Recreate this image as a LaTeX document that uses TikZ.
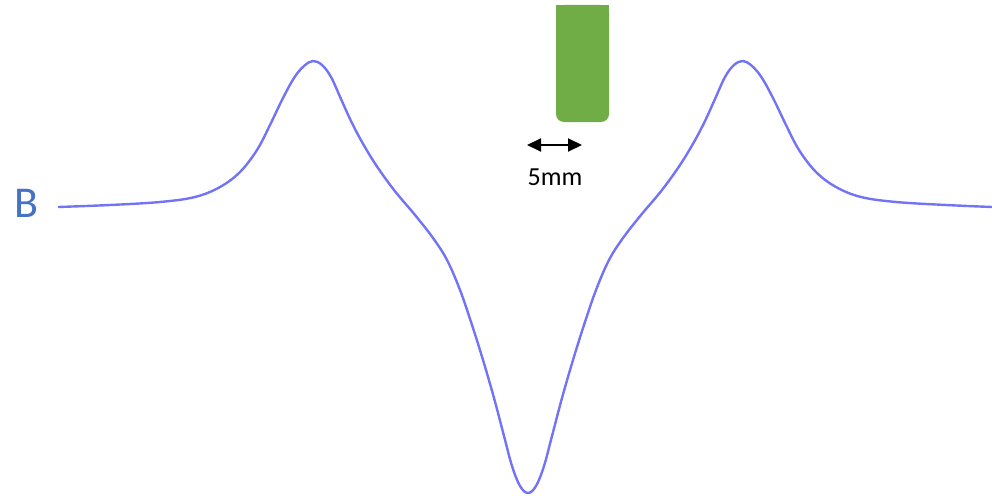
\documentclass[tikz,border=0pt]{standalone}
\usepackage{fontspec}
\setmainfont{Carlito}
\usetikzlibrary{arrows.meta}
\definecolor{fieldblue}{RGB}{90,90,245}
\definecolor{labelblue}{RGB}{68,114,196}
\definecolor{probegreen}{RGB}{112,173,71}
\begin{document}
\begin{tikzpicture}[x=1pt, y=-1pt,
  field/.style={draw=fieldblue, line width=2.4pt, opacity=0.85, line join=round},
  probe/.style={fill=probegreen},
  gap/.style={{Triangle[length=14pt,width=13pt]}-{Triangle[length=14pt,width=13pt]}, line width=2pt}]
  \useasboundingbox (0,0) rectangle (992,500);

  % label
  \node[text=labelblue, font=\fontsize{44}{50}\selectfont] (blabel) at (26,203) {B};

  % field profile
  \draw[field] plot[smooth, tension=0.6] coordinates {
    (58,207) (110,205) (160,202) (195,197) (220,187) (240,172) (257,150)
    (270,125) (282,100) (294,78) (304,66) (313,61) (322,65) (331,77)
    (341,99) (351,121) (362,142) (376,165) (394,190) (415,215) (433,238)
    (447,260) (460,290) (472,325) (483,360) (494,398) (504,436) (512,466)
    (520,486) (528,493) (536,486) (544,466) (552,436) (562,398) (573,360)
    (584,325) (596,290) (609,260) (623,238) (641,215) (662,190) (680,165)
    (694,142) (705,121) (715,99) (725,77) (734,65) (743,61) (752,66)
    (762,78) (774,100) (786,125) (799,150) (816,172) (836,187) (861,197)
    (896,202) (946,205) (992,207)};

  % probe
  \fill[probe, rounded corners=8pt] (556,5) rectangle (609,122);
  \fill[probe] (556,5) rectangle (609,25);

  % width
  \coordinate (gapl) at (527,145);
  \coordinate (gapr) at (582,145);
  \draw[gap] (gapl) -- (gapr);
  \node[font=\fontsize{26}{30}\selectfont] (gaptext) at (555,177) {5mm};
\end{tikzpicture}
\end{document}
